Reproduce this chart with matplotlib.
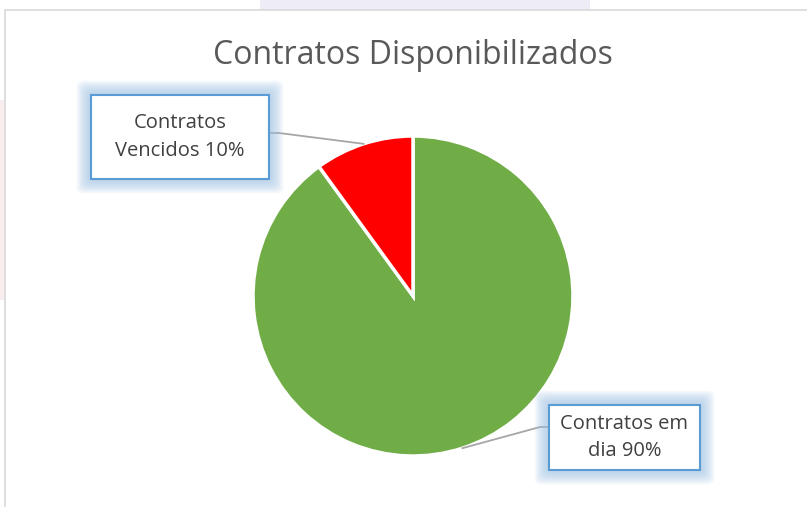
import matplotlib
matplotlib.use("Agg")
import matplotlib.pyplot as plt
import numpy as np
from matplotlib.patches import FancyBboxPatch, Rectangle

categories = ["Contratos em dia", "Contratos Vencidos"]
values = [90, 10]
colors = ["#70AD47", "#FF0000"]
label_texts = ["Contratos em\ndia 90%", "Contratos\nVencidos 10%"]

W, H = 807, 507
fig = plt.figure(figsize=(W / 100, H / 100), dpi=100)
fig.patch.set_facecolor("white")
FONT = ["Open Sans", "DejaVu Sans"]

def fx(x):
    return x / W

def fy(y):
    return 1 - y / H

# faint background strip behind chart area (outside chart border)
fig.patches.append(Rectangle((fx(260), fy(10)), fx(330), 10 / H, transform=fig.transFigure,
                             facecolor="#EEECF6", edgecolor="none", zorder=0))
fig.patches.append(Rectangle((0, fy(300)), fx(5), 200 / H, transform=fig.transFigure,
                             facecolor="#FAEDED", edgecolor="none", zorder=0))
# chart area
fig.patches.append(Rectangle((fx(5), -0.1), 1.2, fy(10) + 0.1, transform=fig.transFigure,
                             facecolor="white", edgecolor="#D9D9D9", linewidth=1.2, zorder=1))

fig.text(fx(413), fy(55), "Contratos Disponibilizados", ha="center", va="center",
         fontsize=23, color="#595959", family=FONT, zorder=5)

cx, cy, r = 413, 296, 160
ax = fig.add_axes([fx(cx - r), fy(cy + r), 2 * r / W, 2 * r / H])
ax.set_zorder(3)
wedges, _ = ax.pie(values, colors=colors, startangle=90, counterclock=False,
                   wedgeprops=dict(edgecolor="white", linewidth=2.5))
ax.set_xlim(-1, 1)
ax.set_ylim(-1, 1)
ax.set_aspect("equal")
ax.axis("off")

# label boxes (pixel coordinates: left, top, right, bottom) and attachment y
boxes = [(549, 405, 700, 470, 427), (91, 95, 269, 179, 133)]

for i, (w, txt) in enumerate(zip(wedges, label_texts)):
    l, t, rr, b, ay = boxes[i]
    # glow
    for k in range(12, 0, -1):
        pad = k * 1.2
        fig.patches.append(FancyBboxPatch((fx(l - pad), fy(b + pad)), (rr - l + 2 * pad) / W,
                                          (b - t + 2 * pad) / H, boxstyle="round,pad=0,rounding_size=0.01",
                                          transform=fig.transFigure, facecolor="#9DC3E6",
                                          edgecolor="none", alpha=0.085, zorder=6))
    fig.patches.append(Rectangle((fx(l), fy(b)), (rr - l) / W, (b - t) / H, transform=fig.transFigure,
                                 facecolor="white", edgecolor="#5B9BD5", linewidth=1.5, zorder=7))
    fig.text(fx((l + rr) / 2), fy((t + b) / 2), txt, ha="center", va="center",
             fontsize=14.5, color="#404040", family=FONT, linespacing=1.5, zorder=8)
    # leader line to wedge midpoint on the edge
    ang = np.deg2rad((w.theta1 + w.theta2) / 2)
    px = cx + r * np.cos(ang)
    py = cy - r * np.sin(ang)
    if i == 0:
        xs = [px, l - 9, l]
    else:
        xs = [px, rr + 10, rr]
    ys = [py, ay, ay]
    fig.add_artist(plt.Line2D([fx(x) for x in xs], [fy(y) for y in ys], transform=fig.transFigure,
                              color="#A6A6A6", linewidth=1.3, zorder=5))

fig.savefig("out.png", dpi=100)
